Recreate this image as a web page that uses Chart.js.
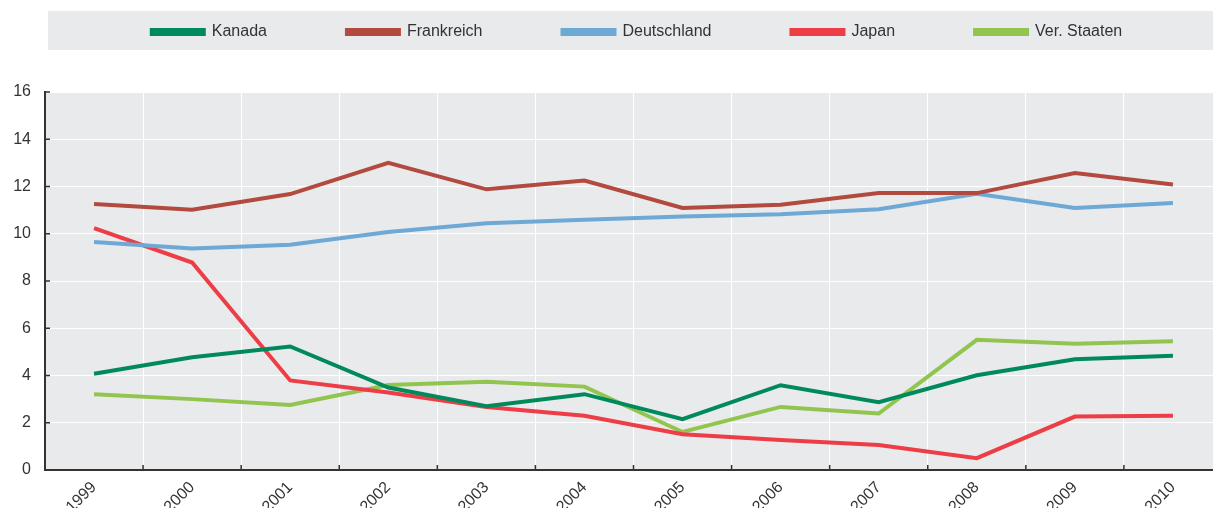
<!DOCTYPE html>
<html>
<head>
<meta charset="utf-8">
<script src="https://cdn.jsdelivr.net/npm/chart.js@4.4.1/dist/chart.umd.min.js"></script>
<style>
  html, body { margin: 0; padding: 0; background: #fff; overflow: hidden; }
  #wrap { width: 1222px; height: 508px; }
</style>
</head>
<body>
<div id="wrap"><canvas id="chart"></canvas></div>
<script>
const years = ['1999', '2000', '2001', '2002', '2003', '2004', '2005', '2006', '2007', '2008', '2009', '2010'];
const kanada = [4.07, 4.77, 5.23, 3.49, 2.70, 3.21, 2.15, 3.59, 2.87, 4.01, 4.69, 4.84];
const frankreich = [11.26, 11.02, 11.68, 13.00, 11.88, 12.25, 11.09, 11.23, 11.72, 11.72, 12.57, 12.08];
const deutschland = [9.65, 9.38, 9.53, 10.07, 10.44, 10.59, 10.73, 10.83, 11.04, 11.69, 11.09, 11.30];
const japan = [10.24, 8.78, 3.79, 3.28, 2.67, 2.30, 1.51, 1.27, 1.06, 0.50, 2.26, 2.30];
const verStaaten = [3.21, 3.00, 2.75, 3.60, 3.74, 3.53, 1.61, 2.67, 2.39, 5.51, 5.34, 5.45];
const yMin = 0, yMax = 16, yStep = 2;

const PANEL = '#e9eaec';
const AXIS = '#333333';
const LEGEND_PAD = 80;

Chart.defaults.font.family = '"Liberation Sans Narrow", "Arial Narrow", "Liberation Sans", Arial, sans-serif';
Chart.defaults.color = '#333333';

// grey plot area + legend band, and inward tick marks
const panels = {
    id: 'panels',
    beforeInit(chart) {
        const fit = chart.legend.fit;
        chart.legend.fit = function () {
            fit.call(this);
            this.height = 92;
        };
    },
    afterLayout(chart) {
        // the big label padding spreads the items; pull the row back up
        const l = chart.legend;
        l.top -= LEGEND_PAD - 24;
        l.left += 26;
        l.right += 26;
    },
    beforeDraw(chart) {
        const { ctx, chartArea } = chart;
        ctx.save();
        ctx.fillStyle = PANEL;
        ctx.fillRect(48, 11, chart.width - 48, 39);
        ctx.fillRect(chartArea.left, chartArea.top, chartArea.right - chartArea.left, chartArea.bottom - chartArea.top);
        ctx.restore();
    },
    afterDatasetsDraw(chart) {
        const { ctx, scales } = chart;
        const x = scales.x, y = scales.y;
        ctx.save();
        ctx.strokeStyle = AXIS;
        ctx.lineWidth = 1.5;
        ctx.beginPath();
        y.ticks.forEach((t, i) => {
            const py = y.getPixelForTick(i);
            ctx.moveTo(x.left, py);
            ctx.lineTo(x.left + 5, py);
        });
        for (let i = 0; i <= years.length; i++) {
            const px = x.getPixelForValue(i - 0.5);
            ctx.moveTo(px, y.bottom);
            ctx.lineTo(px, y.bottom - 5);
        }
        ctx.stroke();
        ctx.restore();
    }
};

function line(label, data, color) {
    return {
        label: label,
        data: data,
        borderColor: color,
        backgroundColor: color,
        borderWidth: 4,
        pointRadius: 0,
        tension: 0,
        fill: false
    };
}

new Chart(document.getElementById('chart'), {
    type: 'line',
    data: {
        labels: years,
        datasets: [
            line('Kanada', kanada, '#008a5c'),
            line('Frankreich', frankreich, '#b34a3f'),
            line('Deutschland', deutschland, '#6ea8d5'),
            line('Japan', japan, '#ed3d46'),
            line('Ver. Staaten', verStaaten, '#91c54f')
        ]
    },
    options: {
        responsive: true,
        maintainAspectRatio: false,
        animation: false,
        layout: { padding: { left: 0, right: 0, top: 0, bottom: 0 } },
        plugins: {
            legend: {
                position: 'top',
                labels: {
                    boxWidth: 52,
                    boxHeight: 4,
                    padding: LEGEND_PAD,
                    font: { size: 16 },
                    color: '#333333'
                }
            },
            tooltip: { enabled: false }
        },
        scales: {
            x: {
                offset: true,
                grid: { color: '#ffffff', lineWidth: 1, offset: true, drawTicks: false },
                border: { color: AXIS, width: 2 },
                ticks: { minRotation: 45, maxRotation: 45, padding: 8, font: { size: 16 } },
                afterFit(scale) { scale.height = 38; }
            },
            y: {
                min: yMin,
                max: yMax,
                grid: { color: '#ffffff', lineWidth: 1, drawTicks: false },
                border: { color: AXIS, width: 2 },
                ticks: { stepSize: yStep, padding: 14, font: { size: 16 } },
                afterFit(scale) { scale.width = 45; }
            }
        }
    },
    plugins: [panels]
});
</script>
</body>
</html>
